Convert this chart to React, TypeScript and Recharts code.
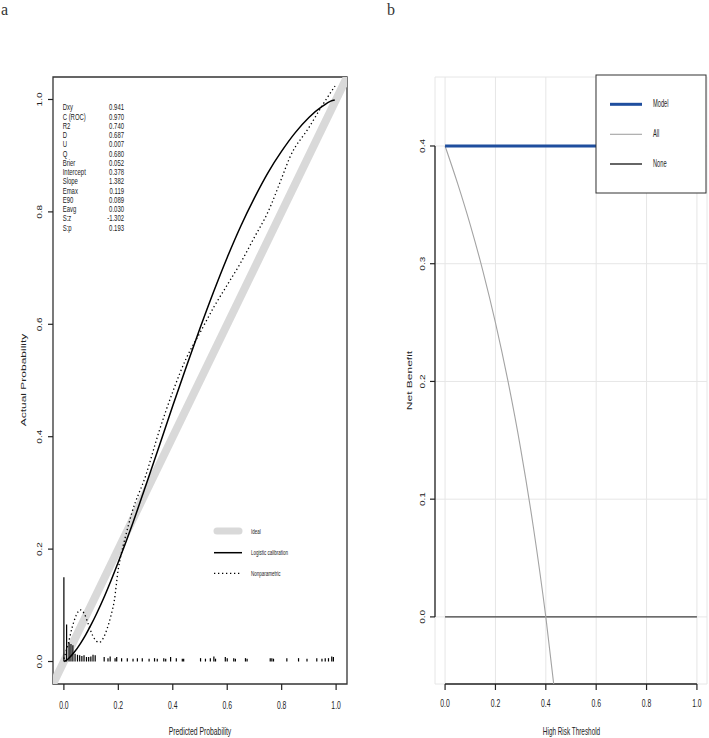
import React from 'react';
import { ComposedChart, Line, XAxis, YAxis, ReferenceLine, ReferenceArea, CartesianGrid } from 'recharts';

const FONT = "'Liberation Sans', Arial, Helvetica, sans-serif";

// ---------- Panel a: calibration ----------
const calTicks = [0, 0.2, 0.4, 0.6, 0.8, 1.0];
const idealPred = [-0.04, 1.04];
const idealActual = [-0.04, 1.04];
const logisticPred = [0.001, 0.01, 0.02, 0.04, 0.06, 0.08, 0.1, 0.12, 0.15, 0.2, 0.25, 0.3, 0.35, 0.4, 0.45, 0.5, 0.55, 0.6, 0.65, 0.7, 0.75, 0.8, 0.85, 0.9, 0.95, 0.98, 0.995];
const logisticActual = [0.0001, 0.0025, 0.0067, 0.0177, 0.0315, 0.0475, 0.0655, 0.085, 0.117, 0.177, 0.242, 0.312, 0.383, 0.455, 0.525, 0.593, 0.658, 0.719, 0.775, 0.825, 0.87, 0.908, 0.941, 0.968, 0.988, 0.997, 0.999];
const npPred = [0.0, 0.015, 0.03, 0.045, 0.06, 0.075, 0.09, 0.105, 0.12, 0.13, 0.145, 0.16, 0.172, 0.185, 0.2, 0.21, 0.225, 0.25, 0.3, 0.35, 0.4, 0.45, 0.5, 0.55, 0.6, 0.65, 0.7, 0.75, 0.8, 0.83, 0.9, 0.95, 0.996];
const npActual = [0.005, 0.03, 0.06, 0.082, 0.092, 0.085, 0.066, 0.047, 0.036, 0.034, 0.042, 0.06, 0.08, 0.108, 0.165, 0.19, 0.22, 0.265, 0.33, 0.41, 0.48, 0.54, 0.585, 0.63, 0.67, 0.71, 0.755, 0.8, 0.86, 0.897, 0.95, 0.99, 1.024];
const rugPred = [0, 0.01, 0.019, 0.026, 0.033, 0.041, 0.05, 0.058, 0.066, 0.074, 0.083, 0.091, 0.099, 0.107, 0.115, 0.148, 0.162, 0.17, 0.188, 0.194, 0.212, 0.233, 0.254, 0.27, 0.288, 0.313, 0.333, 0.343, 0.367, 0.374, 0.392, 0.413, 0.435, 0.44, 0.502, 0.52, 0.538, 0.551, 0.557, 0.593, 0.6, 0.624, 0.63, 0.667, 0.673, 0.758, 0.764, 0.77, 0.819, 0.862, 0.893, 0.929, 0.948, 0.96, 0.972, 0.984, 0.99];
const rugHeight = [0.15, 0.066, 0.034, 0.031, 0.029, 0.014, 0.012, 0.011, 0.01, 0.011, 0.008, 0.008, 0.009, 0.012, 0.011, 0.008, 0.006, 0.009, 0.006, 0.008, 0.006, 0.006, 0.005, 0.006, 0.006, 0.005, 0.006, 0.005, 0.006, 0.005, 0.008, 0.006, 0.005, 0.005, 0.006, 0.005, 0.006, 0.009, 0.005, 0.008, 0.006, 0.006, 0.005, 0.006, 0.005, 0.006, 0.006, 0.005, 0.006, 0.006, 0.005, 0.006, 0.005, 0.006, 0.006, 0.009, 0.008];
const statLabels = ['Dxy', 'C (ROC)', 'R2', 'D', 'U', 'Q', 'Brier', 'Intercept', 'Slope', 'Emax', 'E90', 'Eavg', 'S:z', 'S:p'];
const statValues = ['0.941', '0.970', '0.740', '0.687', '0.007', '0.680', '0.052', '0.378', '1.382', '0.119', '0.089', '0.030', '-1.302', '0.193'];
const calLegend = ['Ideal', 'Logistic calibration', 'Nonparametric'];

// ---------- Panel b: decision curve ----------
const nbXTicks = [0, 0.2, 0.4, 0.6, 0.8, 1.0];
const nbYTicks = [0, 0.1, 0.2, 0.3, 0.4];
const modelThreshold = [0, 1];
const modelNB = [0.4, 0.4];
const allThreshold = [0, 0.05, 0.1, 0.15, 0.2, 0.25, 0.3, 0.35, 0.4, 0.45];
const allNB = [0.4, 0.368, 0.333, 0.294, 0.25, 0.2, 0.143, 0.077, 0.0, -0.091];
const noneThreshold = [0, 1];
const noneNB = [0, 0];
const dcaLegend = ['Model', 'All', 'None'];

const toXY = (xs: number[], ys: number[]) => xs.map((x, i) => ({ x, y: ys[i] }));
const idealData = toXY(idealPred, idealActual);
const logisticData = toXY(logisticPred, logisticActual);
const npData = toXY(npPred, npActual);
const modelData = toXY(modelThreshold, modelNB);
const allData = toXY(allThreshold, allNB);
const noneData = toXY(noneThreshold, noneNB);

const SqText = ({ x, y, size, sx = 0.62, anchor = 'middle', rot = false, children, fill = '#222' }: any) => (
  <text
    transform={`translate(${x},${y}) scale(${sx},1)${rot ? ' rotate(-90)' : ''}`}
    fontSize={size}
    fontFamily={FONT}
    textAnchor={anchor}
    dominantBaseline="central"
    fill={fill}
  >
    {children}
  </text>
);

const XTick = (p: any) => (
  <SqText x={p.x} y={p.y} size={11} sx={0.62}>{Number(p.payload.value).toFixed(1)}</SqText>
);
const YTick = (p: any) => (
  <SqText x={p.x} y={p.y} size={10} sx={0.68} rot>{Number(p.payload.value).toFixed(1)}</SqText>
);

export default function App() {
  return (
    <div style={{ position: 'absolute', left: 0, top: 0, width: 709, height: 738, background: '#fff' }}>
      <div style={{ position: 'absolute', left: 0, top: 0 }}>
        <ComposedChart width={360} height={738} margin={{ top: 77, right: 13, bottom: 0, left: 0 }}>
          <XAxis type="number" dataKey="x" domain={[-0.04, 1.04]} ticks={calTicks} interval={0} allowDataOverflow
            axisLine={false} tickLine={{ stroke: '#222', strokeWidth: 1.2 }} tickSize={6} tickMargin={15} height={54} tick={XTick} />
          <YAxis type="number" domain={[-0.04, 1.04]} ticks={calTicks} interval={0} allowDataOverflow
            axisLine={false} tickLine={{ stroke: '#222', strokeWidth: 1.2 }} tickSize={5} tickMargin={8} width={53} tick={YTick} />
          <Line data={idealData} dataKey="y" type="linear" stroke="#d9d9d9" strokeWidth={8} dot={false} isAnimationActive={false} />
          {rugPred.map((v, i) => (
            <ReferenceLine key={'r' + i} segment={[{ x: v, y: 0 }, { x: v, y: rugHeight[i] }]} stroke="#000" strokeWidth={1.2} ifOverflow="visible" />
          ))}
          <Line data={logisticData} dataKey="y" type="monotone" stroke="#000" strokeWidth={1.5} dot={false} isAnimationActive={false} />
          <Line data={npData} dataKey="y" type="monotone" stroke="#000" strokeWidth={1.3} strokeDasharray="1.3 2.7" dot={false} isAnimationActive={false} />
          <ReferenceArea x1={-0.04} x2={1.04} y1={-0.04} y2={1.04} fill="none" fillOpacity={0} stroke="#333" strokeWidth={1.3} ifOverflow="visible" />
        </ComposedChart>
      </div>
      <div style={{ position: 'absolute', left: 360, top: 0 }}>
        <ComposedChart width={349} height={738} margin={{ top: 77, right: 2, bottom: 0, left: 0 }}>
          <CartesianGrid stroke="#e6e6e6" strokeWidth={1} />
          <XAxis type="number" dataKey="x" domain={[-0.04, 1.04]} ticks={nbXTicks} interval={0} allowDataOverflow
            axisLine={false} tickLine={{ stroke: '#222', strokeWidth: 1.2 }} tickSize={6} tickMargin={13} height={54} tick={XTick} />
          <YAxis type="number" domain={[-0.057, 0.4586]} ticks={nbYTicks} interval={0} allowDataOverflow
            axisLine={false} tickLine={{ stroke: '#222', strokeWidth: 1.2 }} tickSize={5} tickMargin={7} width={75} tick={YTick} />
          <ReferenceLine segment={[{ x: -0.04, y: 0 }, { x: -0.04, y: 0.4 }]} stroke="#222" strokeWidth={1.3} ifOverflow="visible" />
          <ReferenceLine segment={[{ x: 0, y: -0.057 }, { x: 1, y: -0.057 }]} stroke="#222" strokeWidth={1.3} ifOverflow="visible" />
          <Line data={noneData} dataKey="y" type="linear" stroke="#404040" strokeWidth={1.4} dot={false} isAnimationActive={false} />
          <Line data={allData} dataKey="y" type="monotone" stroke="#a3a3a3" strokeWidth={1.1} dot={false} isAnimationActive={false} />
          <Line data={modelData} dataKey="y" type="linear" stroke="#1f4e9e" strokeWidth={2.8} dot={false} isAnimationActive={false} />
        </ComposedChart>
      </div>
      <svg width={709} height={738} style={{ position: 'absolute', left: 0, top: 0, pointerEvents: 'none' }}>
        <text x={1} y={15} fontSize={16} fontFamily="'Liberation Serif', serif" fill="#333">a</text>
        <text x={387} y={15} fontSize={16} fontFamily="'Liberation Serif', serif" fill="#333">b</text>
        {statLabels.map((s, i) => (
          <SqText key={'sl' + i} x={62.7} y={107.5 + 9.25 * i} size={8.5} sx={0.7} anchor="start">{s}</SqText>
        ))}
        {statValues.map((s, i) => (
          <SqText key={'sv' + i} x={124} y={107.5 + 9.25 * i} size={8.5} sx={0.7} anchor="end">{s}</SqText>
        ))}
        <line x1={217} x2={239} y1={531} y2={531} stroke="#d9d9d9" strokeWidth={7} strokeLinecap="round" />
        <line x1={214} x2={242} y1={552.7} y2={552.7} stroke="#000" strokeWidth={1.5} />
        <line x1={214} x2={242} y1={573.3} y2={573.3} stroke="#000" strokeWidth={1.3} strokeDasharray="1.3 2.7" />
        {calLegend.map((s, i) => (
          <SqText key={'cl' + i} x={251} y={531 + 21.2 * i} size={7.5} sx={0.6} anchor="start">{s}</SqText>
        ))}
        <SqText x={200} y={731} size={11} sx={0.62}>Predicted Probability</SqText>
        <SqText x={23} y={380} size={12} sx={0.62} rot>Actual Probability</SqText>
        <SqText x={571.5} y={731} size={11} sx={0.58}>High Risk Threshold</SqText>
        <SqText x={409} y={380.5} size={12} sx={0.62} rot>Net Benefit</SqText>
        <rect x={596} y={75} width={110} height={118} fill="#fff" stroke="#333" strokeWidth={1} />
        <line x1={610} x2={642} y1={104.3} y2={104.3} stroke="#1f4e9e" strokeWidth={3} />
        <line x1={610} x2={642} y1={134.3} y2={134.3} stroke="#a3a3a3" strokeWidth={1.1} />
        <line x1={610} x2={642} y1={164} y2={164} stroke="#404040" strokeWidth={1.6} />
        {dcaLegend.map((s, i) => (
          <SqText key={'dl' + i} x={653} y={104.3 + 29.9 * i} size={10} sx={0.57} anchor="start">{s}</SqText>
        ))}
      </svg>
    </div>
  );
}
